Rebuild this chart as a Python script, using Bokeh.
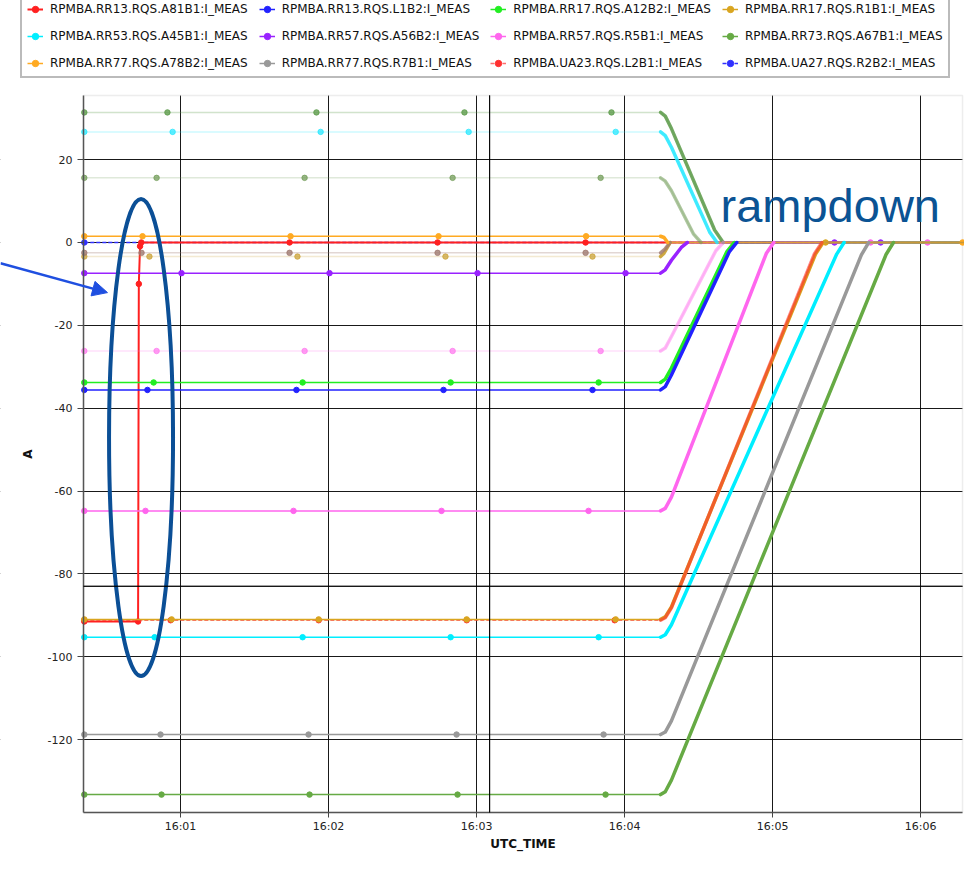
import pandas as pd
from bokeh.plotting import figure
from bokeh.models import (Range1d, FixedTicker, DatetimeTickFormatter, Legend, LegendItem,
                          Label, Arrow, NormalHead, BoxAnnotation)
from bokeh.embed import file_html
from bokeh.resources import INLINE

# ---------------- data (times in seconds after 16:00:00, currents in A) ----------------
DAY = "2000-01-01 16:00:00"
x_tick_labels = ["16:01", "16:02", "16:03", "16:04", "16:05", "16:06"]
y_ticks = [-120, -100, -80, -60, -40, -20, 0, 20]
x_view = [20.7, 377.0]          # visible time window of the chart box
y_view = [-137.6, 35.5]         # visible current window of the chart box
canvas_x = [-12.97, 377.8]      # whole canvas (chart box + page room to its left)
canvas_y = [-148.0, 58.42]      # whole canvas (legend strip above, time labels below)
first_sample = 21.0
last_sample = 380.0
marker_time = 185.3      # extra vertical cursor line
marker_level = -83.0     # extra horizontal cursor line

# RPMBA.RR13.RQS.A81B1 (trip at ~16:00:43)
a81b1_level = -91.5
a81b1_dots = []
a81b1_step_t = [42.8, 43.1, 43.6, 44.1]
a81b1_step_a = [-91.5, -10.0, -0.9, 0.0]
a81b1_post = [104.2, 164.2, 224.2]

# RPMBA.RR13.RQS.L1B2
l1b2_level = -35.6
l1b2_dots = [46.6, 107.0, 166.6, 227.0]
l1b2_ramp_t = [254.6, 256.5, 259.0, 282.5, 285.5]
l1b2_ramp_a = [-35.6, -34.8, -32.0, -2.2, 0.0]

# RPMBA.RR17.RQS.A12B2
a12b2_level = -33.8
a12b2_dots = [49.1, 109.5, 169.5, 229.5]
a12b2_ramp_t = [254.6, 256.5, 259.0, 281.5, 284.5]
a12b2_ramp_a = [-33.8, -33.0, -30.3, -2.2, 0.0]

# RPMBA.RR17.RQS.R1B1
r1b1_level = -91.0
r1b1_dots = [56.4, 116.0, 176.0, 236.4]
r1b1_ramp_t = [254.6, 256.5, 259.0, 317.5, 320.5]
r1b1_ramp_a = [-91.0, -90.4, -88.0, -2.7, 0.0]
r1b1_post = [321.5]

# RPMBA.RR53.RQS.A45B1
a45b1_level = -95.3
a45b1_dots = [49.5, 109.5, 169.5, 229.5]
a45b1_ramp_t = [254.6, 256.5, 259.0, 326.0, 329.0]
a45b1_ramp_a = [-95.3, -94.7, -92.3, -2.8, 0.0]

# RPMBA.RR57.RQS.A56B2
a56b2_level = -7.4
a56b2_dots = [60.4, 120.4, 180.4, 240.4]
a56b2_ramp_t = [254.6, 256.5, 259.0, 263.0, 265.5]
a56b2_ramp_a = [-7.4, -6.6, -4.3, -1.2, 0.0]
a56b2_post = [325.1, 343.8]

# RPMBA.RR57.RQS.R5B1
r5b1_level = -64.8
r5b1_dots = [45.8, 105.8, 165.8, 225.4]
r5b1_ramp_t = [254.6, 256.5, 259.0, 297.5, 300.5]
r5b1_ramp_a = [-64.8, -64.2, -61.5, -2.6, 0.0]
r5b1_post = [339.7, 362.8]

# RPMBA.RR73.RQS.A67B1
a67b1_level = -133.3
a67b1_dots = [52.3, 112.3, 172.3, 232.3]
a67b1_ramp_t = [254.6, 256.5, 259.0, 346.0, 349.0]
a67b1_ramp_a = [-133.3, -132.6, -129.8, -2.9, 0.0]

# RPMBA.RR77.RQS.A78B2
a78b2_level = 1.5
a78b2_dots = [44.6, 104.6, 164.6, 224.4]
a78b2_ramp_t = [254.6, 256.0, 257.5]
a78b2_ramp_a = [1.5, 1.2, 0.0]
a78b2_post = [377.0]

# RPMBA.RR77.RQS.R7B1
r7b1_level = -118.8
r7b1_dots = [51.9, 111.9, 171.9, 231.5]
r7b1_ramp_t = [254.6, 256.5, 259.0, 336.0, 339.0]
r7b1_ramp_a = [-118.8, -118.2, -115.5, -3.0, 0.0]

# RPMBA.UA23.RQS.L2B1
l2b1_level = -91.2
l2b1_dots = [56.0, 116.0, 176.0, 236.0]
l2b1_ramp_t = [254.6, 256.5, 259.0, 317.0, 320.0]
l2b1_ramp_a = [-91.2, -90.6, -88.2, -2.7, 0.0]

# RPMBA.UA27.RQS.R2B2
r2b2_level = 0.0

# further (faint) traces of the list
g31_level = 31.4
g31_dots = [54.7, 115.1, 175.1, 234.7]
g31_ramp_t = [254.6, 256.5, 259.0, 276.5, 280.0]
g31_ramp_a = [31.4, 30.5, 27.5, 3.0, 0.0]

c27_level = 26.7
c27_dots = [56.8, 116.8, 176.8, 236.4]
c27_ramp_t = [254.6, 256.5, 259.0, 274.5, 277.5]
c27_ramp_a = [26.7, 25.8, 23.0, 2.5, 0.0]

o16_level = 15.6
o16_dots = [50.3, 110.3, 170.3, 230.3]
o16_ramp_t = [254.6, 256.5, 259.0, 268.0, 271.0]
o16_ramp_a = [15.6, 14.8, 12.5, 2.0, 0.0]

b3_level = -2.5
b3_dots = [44.2, 104.2, 164.2, 224.2]
b3_ramp_t = [254.6, 256.5, 258.5]
b3_ramp_a = [-2.5, -1.5, 0.0]

t3_level = -3.4
t3_dots = [47.4, 107.4, 167.4, 227.0]
t3_ramp_t = [254.6, 256.0, 258.5]
t3_ramp_a = [-3.4, -2.6, 0.0]

p26_level = -26.2
p26_dots = [50.3, 110.3, 170.3, 230.3]
p26_ramp_t = [254.6, 256.5, 259.0, 277.0, 280.0]
p26_ramp_a = [-26.2, -25.5, -22.7, -2.0, 0.0]

# ---------------- helpers ----------------
BASE_MS = pd.Timestamp(DAY).value / 1e6


def ms(secs):
    return [BASE_MS + s * 1000.0 for s in secs]


def tick_ms(label):
    return pd.Timestamp(DAY[:10] + " " + label + ":00").value / 1e6


S = lambda **k: k
series = {
    "r2b2": S(name="RPMBA.UA27.RQS.R2B2:I_MEAS", color="#3030ff", level=r2b2_level, dots=[], rt=[], ra=[], post=[], fa=1.0, ra_alpha=1.0, rw=0, dash="4 2"),
    "a81b1": S(name="RPMBA.RR13.RQS.A81B1:I_MEAS", color="#ff2020", level=a81b1_level, dots=a81b1_dots, rt=a81b1_step_t, ra=a81b1_step_a, post=a81b1_post, fa=1.0, ra_alpha=1.0, rw=0, dash="solid", step=True),
    "g31": S(name=None, color="#5a9a48", level=g31_level, dots=g31_dots, rt=g31_ramp_t, ra=g31_ramp_a, post=[], fa=0.28, ra_alpha=0.85, rw=3.5, dash="solid"),
    "c27": S(name=None, color="#22e8ff", level=c27_level, dots=c27_dots, rt=c27_ramp_t, ra=c27_ramp_a, post=[], fa=0.22, ra_alpha=0.85, rw=3.5, dash="solid"),
    "o16": S(name=None, color="#6f9a55", level=o16_level, dots=o16_dots, rt=o16_ramp_t, ra=o16_ramp_a, post=[], fa=0.22, ra_alpha=0.55, rw=3.5, dash="solid"),
    "t3": S(name=None, color="#c9a030", level=t3_level, dots=t3_dots, rt=t3_ramp_t, ra=t3_ramp_a, post=[], fa=0.22, ra_alpha=0.9, rw=3.5, dash="solid"),
    "p26": S(name=None, color="#ff77ee", level=p26_level, dots=p26_dots, rt=p26_ramp_t, ra=p26_ramp_a, post=[], fa=0.22, ra_alpha=0.5, rw=3.5, dash="solid"),
    "l2b1": S(name="RPMBA.UA23.RQS.L2B1:I_MEAS", color="#ff3030", level=l2b1_level, dots=l2b1_dots, rt=l2b1_ramp_t, ra=l2b1_ramp_a, post=[], fa=0.7, ra_alpha=0.6, rw=3.5, dash="4 2"),
    "a56b2": S(name="RPMBA.RR57.RQS.A56B2:I_MEAS", color="#9922ff", level=a56b2_level, dots=a56b2_dots, rt=a56b2_ramp_t, ra=a56b2_ramp_a, post=a56b2_post, fa=1.0, ra_alpha=1.0, rw=3.5, dash="solid"),
    "a12b2": S(name="RPMBA.RR17.RQS.A12B2:I_MEAS", color="#22ee22", level=a12b2_level, dots=a12b2_dots, rt=a12b2_ramp_t, ra=a12b2_ramp_a, post=[], fa=1.0, ra_alpha=1.0, rw=3.5, dash="solid"),
    "l1b2": S(name="RPMBA.RR13.RQS.L1B2:I_MEAS", color="#2222ff", level=l1b2_level, dots=l1b2_dots, rt=l1b2_ramp_t, ra=l1b2_ramp_a, post=[], fa=1.0, ra_alpha=1.0, rw=3.5, dash="solid"),
    "r5b1": S(name="RPMBA.RR57.RQS.R5B1:I_MEAS", color="#ff66ee", level=r5b1_level, dots=r5b1_dots, rt=r5b1_ramp_t, ra=r5b1_ramp_a, post=r5b1_post, fa=1.0, ra_alpha=1.0, rw=3.5, dash="solid"),
    "a45b1": S(name="RPMBA.RR53.RQS.A45B1:I_MEAS", color="#00eeff", level=a45b1_level, dots=a45b1_dots, rt=a45b1_ramp_t, ra=a45b1_ramp_a, post=[], fa=1.0, ra_alpha=1.0, rw=3.5, dash="solid"),
    "r7b1": S(name="RPMBA.RR77.RQS.R7B1:I_MEAS", color="#999999", level=r7b1_level, dots=r7b1_dots, rt=r7b1_ramp_t, ra=r7b1_ramp_a, post=[], fa=1.0, ra_alpha=1.0, rw=3.5, dash="solid"),
    "a67b1": S(name="RPMBA.RR73.RQS.A67B1:I_MEAS", color="#66aa44", level=a67b1_level, dots=a67b1_dots, rt=a67b1_ramp_t, ra=a67b1_ramp_a, post=[], fa=1.0, ra_alpha=1.0, rw=3.5, dash="solid"),
    "a78b2": S(name="RPMBA.RR77.RQS.A78B2:I_MEAS", color="#ffaa22", level=a78b2_level, dots=a78b2_dots, rt=a78b2_ramp_t, ra=a78b2_ramp_a, post=a78b2_post, fa=1.0, ra_alpha=1.0, rw=3.5, dash="solid"),
    "r1b1": S(name="RPMBA.RR17.RQS.R1B1:I_MEAS", color="#d9a520", level=r1b1_level, dots=r1b1_dots, rt=r1b1_ramp_t, ra=r1b1_ramp_a, post=r1b1_post, fa=1.0, ra_alpha=1.0, rw=3.5, dash="solid"),
    "b3": S(name=None, color="#a07a70", level=b3_level, dots=b3_dots, rt=b3_ramp_t, ra=b3_ramp_a, post=[], fa=0.3, ra_alpha=0.8, rw=3.5, dash="solid"),
}
flat_order = list(series.keys())
ramp_order = ["g31", "c27", "o16", "t3", "b3", "p26", "a56b2", "a78b2", "a12b2", "l1b2", "r5b1",
              "r1b1", "l2b1", "a45b1", "r7b1", "a67b1"]
legend_order = ["a81b1", "l1b2", "a12b2", "r1b1", "a45b1", "a56b2", "r5b1", "a67b1",
                "a78b2", "r7b1", "l2b1", "r2b2"]

# ---------------- figure ----------------
p = figure(width=964, height=855, x_axis_type="datetime", output_backend="svg",
           toolbar_location=None,
           x_range=Range1d(ms([canvas_x[0]])[0], ms([canvas_x[1]])[0]),
           y_range=Range1d(canvas_y[0], canvas_y[1]),
           min_border_left=0, min_border_right=0, min_border_top=0, min_border_bottom=0)
p.background_fill_color = "white"
p.border_fill_color = "white"
p.outline_line_color = None

for g in (p.xgrid, p.ygrid):
    g.grid_line_color = "black"
    g.grid_line_alpha = 0.9
    g.grid_line_width = 1

box_left = ms([x_view[0]])[0]
box_right = ms([x_view[1]])[0]
p.xaxis.ticker = FixedTicker(ticks=[tick_ms(t) for t in x_tick_labels])
fmt = "%H:%M"
p.xaxis.formatter = DatetimeTickFormatter(milliseconds=fmt, seconds=fmt, minsec=fmt, minutes=fmt,
                                          hourmin=fmt, hours=fmt, days=fmt, months=fmt, years=fmt)
p.xaxis.bounds = (box_left, box_right)
p.xaxis.fixed_location = y_view[0]
p.yaxis.ticker = FixedTicker(ticks=y_ticks)
p.yaxis.major_label_overrides = {v: str(v) for v in y_ticks}
p.yaxis.fixed_location = box_left
p.yaxis.bounds = (y_view[0], y_view[1])
p.xaxis.axis_label = "UTC_TIME"
p.yaxis.axis_label = "A"
for ax in (p.xaxis, p.yaxis):
    ax.axis_line_color = "#555555"
    ax.axis_line_width = 1.5
    ax.major_tick_out = 6
    ax.major_tick_in = 0
    ax.major_tick_line_color = "#444444"
    ax.minor_tick_out = 0
    ax.minor_tick_in = 0
    ax.major_label_text_font = "DejaVu Sans"
    ax.major_label_text_font_size = "11px"
    ax.major_label_text_color = "#222222"
    ax.axis_label_text_font = "DejaVu Sans"
    ax.axis_label_text_font_size = "12px"
    ax.axis_label_text_font_style = "bold"
    ax.axis_label_text_color = "#111111"
p.xaxis.major_tick_out = 5
p.xaxis.major_label_standoff = 3
p.xaxis.axis_label_standoff = 0
p.yaxis.major_label_standoff = 5
p.yaxis.axis_label_standoff = 10

# page room outside the chart box stays white (covers grid there)
p.add_layout(BoxAnnotation(right=box_left, fill_color="white", fill_alpha=1.0, line_alpha=0, level="underlay"))
p.add_layout(BoxAnnotation(bottom=y_view[1], fill_color="white", fill_alpha=1.0, line_alpha=0, level="underlay"))
p.add_layout(BoxAnnotation(top=y_view[0], fill_color="white", fill_alpha=1.0, line_alpha=0, level="underlay"))
p.add_layout(BoxAnnotation(left=box_right, fill_color="white", fill_alpha=1.0, line_alpha=0, level="underlay"))
p.add_layout(BoxAnnotation(left=box_left, right=box_right, bottom=y_view[0], top=y_view[1], fill_alpha=0,
                           line_color="#c4c4c4", line_width=1.5, level="underlay"))

renderers = {}
# flat parts + logged samples
for k in flat_order:
    s = series[k]
    t = [first_sample] + s["dots"] + s["rt"] + s["post"] + [last_sample]
    a = [s["level"]] * (1 + len(s["dots"])) + s["ra"] + [0.0] * (len(s["post"]) + 1)
    if not s["rt"]:
        a = [s["level"]] * len(t)
    lw = 2.0 if s.get("step") else 1.5
    lr = p.line(ms(t), a, line_color=s["color"], line_width=lw, line_alpha=s["fa"], line_dash=s["dash"])
    dt = [first_sample] + s["dots"] + (s["rt"] if s.get("step") else []) + s["post"]
    da = [s["level"]] * (1 + len(s["dots"])) + (s["ra"] if s.get("step") else []) + [0.0] * len(s["post"])
    dr = p.scatter(ms(dt), da, size=5.5, marker="circle", fill_color=s["color"], line_color=s["color"],
                   alpha=min(1.0, s["fa"] + 0.5))
    renderers[k] = (lr, dr, s["name"])

# ramp-down sections (dense logging -> thick traces)
for k in ramp_order:
    s = series[k]
    p.line(ms(s["rt"]), s["ra"], line_color=s["color"], line_width=s["rw"], line_alpha=s["ra_alpha"],
           line_join="round", line_cap="round")

# cursor lines (limited to the chart box)
p.add_layout(BoxAnnotation(left=box_left, right=box_right, bottom=marker_level, top=marker_level, fill_alpha=0,
                           line_color="black", line_width=1, line_alpha=0.9))
p.add_layout(BoxAnnotation(left=ms([marker_time])[0], right=ms([marker_time])[0], bottom=y_view[0],
                           top=y_view[1], fill_alpha=0, line_color="black", line_width=1, line_alpha=0.9))

# annotations
p.add_layout(Label(x=ms([278.9])[0], y=9.0, text="rampdown", text_font="Liberation Sans",
                   text_font_size="47px", text_color="#0b5394", text_baseline="alphabetic"))
p.ellipse(x=ms([44.0]), y=[-47.1], width=[64], height=[477], width_units="screen", height_units="screen",
          fill_alpha=0, line_color="#0b4f96", line_width=4)
p.add_layout(Arrow(x_start=ms([-12.97])[0], y_start=-5.0, x_end=ms([30.4])[0], y_end=-12.1,
                   line_color="#1f4fe0", line_width=2.5,
                   end=NormalHead(size=15, fill_color="#1f4fe0", line_color="#1f4fe0")))

items = [LegendItem(label=renderers[k][2], renderers=[renderers[k][0], renderers[k][1]]) for k in legend_order]
legend = Legend(items=items, location=(20, 777), ncols=4, orientation="horizontal",
                label_text_font="DejaVu Sans", label_text_font_size="12px", label_text_color="#111111",
                glyph_width=16, glyph_height=16, label_height=16, label_standoff=7, spacing=11,
                padding=5, margin=0, border_line_color="#777777", border_line_width=2,
                background_fill_color="white", background_fill_alpha=1.0)
p.add_layout(legend, "center")

open("out.html", "w").write(file_html(p, INLINE))
